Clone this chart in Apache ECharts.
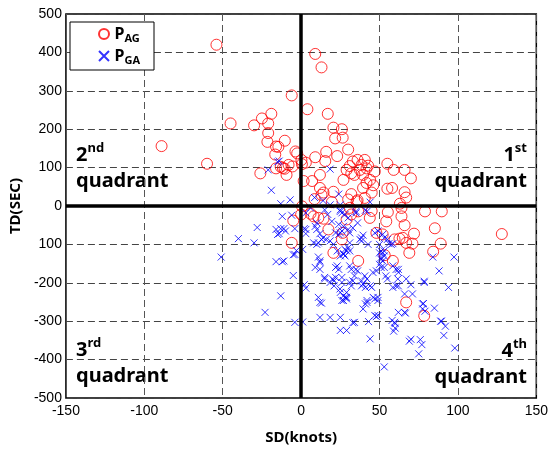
<!DOCTYPE html>
<html>
<head>
<meta charset="utf-8">
<script src="https://cdn.jsdelivr.net/npm/echarts@6/dist/echarts.min.js"></script>
<style>
  html, body { margin: 0; padding: 0; background: #fff; }
  #chart { width: 551px; height: 450px; }
</style>
</head>
<body>
<div id="chart"></div>
<script>
// SD (knots), TD (sec)
const pAG = [
  [-54,420],[-89,156],[-60,110],[-45,215],[-30,210],[-25,228],[-19,240],[-21,215],[-21,190],[-21.5,167],
  [-16,155],[-14.5,154],[-16.5,134],[-26,85],[-6,288],[-10.4,170],[-3.6,142],[-2.5,137],[-16,98],[-13,102],
  [-10.5,97],[-8,107],[-5.5,103],[-9.3,81],[-11.6,99],
  [9,396],[13,361],[4,252],[17,240],[20.6,204],[26,200],[21.7,176],[26.5,178],[30,147],[23,130],
  [16,141],[9,127],[3,113],[0.5,109],[15.4,117],[12,81],[7,65],[1.6,65],[12,47],[14.3,35],
  [20.6,37],[27,68],[31,104],[32,85],[34,81],[36,120],[38.5,107],[40.6,120],[41.7,98],[37.5,94],
  [39.5,81],[42.7,105],[47,90],[41.7,60],[46,54],[39.5,47],[45,35],[32,31],[35.4,12],[40.6,21],
  [55,110],[59,94],[66,94],[70,72],[55,45],[58,47],[66,36],[67,22],[29,94],[33,116],
  [44,68],[13,29],[30,17],[36,15],[8.6,18],[19.6,10],[63,6],[0.2,120],
  [0,-22],[0.6,-1],[-5,-38],[-6,-96],[6,-20],[8,-27],[11,-31],[14.3,-33],[17.4,-61],[20.6,-122],
  [26,-87],[26.5,-70],[29,-35],[32,-22],[31,-5],[36.4,-143],[36.4,-14],[43.8,-31],[45,-13],[48,-70],
  [52,-74],[54.3,-40],[55.3,-16],[53.3,-128],[58.5,-143],[59.6,-87],[62.7,-85],[64.8,-83],[67,-96],[69,-122],
  [66,-50],[64,-27],[79,-14],[89.7,-14],[85.3,-58],[89,-98],[84.2,-119],[128,-73],[67,-251],[78.5,-286],
  [72,-72],[71,-98],[64,-5]
];
const pGA = [
  [-21,94],[-19,41],[-15,115],[-14,117],[-7,16],[-13,6],[8.6,22],[14,14],[24,31],[18.5,96],[44,10],[18.5,3],[25,3],
  [35,-14],[41,-11],[25,-14],
  [-51,-133],[-40,-85],[-30,-96],[-28,-56],[-23,-277],[-16,-145],[-15,-74],[-13,-234],
  [-12,-27],[-6,-24],[-13,-59],[-11,-59],[-14,-72],[-4,-59],[2,-59],[3,-72],[9,-53],
  [-3,-116],[-5,-127],[-12,-145],[-5,-181],[2,-205],[3,-214],[-4,-303],[1,-302],
  [12,-72],[13,-87],[14,-83],[11,-96],[11,-133],[12,-147],[9,-160],[12,-165],[15,-186],[11,-238],[12,-251],[12,-290],
  [-16,-61],[-10,-65],[3,-61],[10,-44],[8,-96],[10,-100],[1,-113],[-4,-126],[-11,-143],[12,-143],
  [13,-253],[18.5,-290],[25,-290],[25,-324],[29,-324],[33,-304],[44,-346],[43,-301],[48,-288],[53,-419],
  [60,-306],[60,-318],[59,-326],[58,-298],[69,-352],[70,-347],[76,-348],[77,-361],[75,-385],[98,-370],
  [92,-313],[91,-337],[89,-300],[85,-266],[78,-254],[77.5,-268],[94,-212],[88,-169],[97.5,-133],[84,-133],
  [78.5,-196],[71,-229],[66,-229],[67,-190],[70,-205],[66,-277],[62,-277],[62,-208],[58.5,-212],[62,-165],
  [62,-173],[58.5,-156],[53,-160],[55,-190],[54,-182],[48,-169],[52,-143],[51,-134],[52,-122],[53,-117],
  [51,-117],[58.5,-98],[56,-98],[55,-87],[50,-100],[39.5,-76],[42.7,-100],[37.5,-87],[38.5,-91],[31,-96],
  [30,-109],[31,-117],[29,-117],[28,-130],[25,-130],[27,-124],[23,-156],[22,-160],[24,-165],[20,-190],
  [21,-195],[22,-186],[18.5,-199],[21,-208],[26,-186],[26,-199],[25,-225],[27,-234],[26,-246],[29,-238],
  [31,-199],[33,-195],[32,-208],[35,-165],[36,-169],[34,-182],[38.5,-195],[39.5,-203],[42,-190],[41,-212],
  [44,-208],[45,-212],[42,-251],[41,-255],[42,-246],[46,-238],[49,-238],[39.5,-268],[15,-190],[31,-156],
  [32,-165],[23,-117],
  [22,-70],[24,-74],[25,-70],[26,-65],[27,-53],[30,-61],[31,-70],[33,-57],[36,-44],[26,-18],
  [28,-22],[30,-31],[35,-18],[42,-14],[15,-10],[17,-22],[3,-18],[6,-5],[10,-61],
  [19.6,-40],[24,-48],[25,-10],[16,-87],[18.5,-91],[20.6,-100],[38.5,-83],[47,-70],[49,-65],[52,-74],
  [53,-83],[57.5,-100],[50,-122],[53,-130],[51,-139],[28,-113],[27,-126],[40.6,-182],[45.8,-173],[50,-152],
  [51,-160],[60.6,-165],[61.7,-190],[60.6,-208],[78.5,-199],[28,-238],[29,-225],[24.8,-216],[38.5,-208],[47,-285],
  [49,-285],[34,-303],[59.6,-303],[77.5,-255],[27,-246],[29,-242],[47,-242],[49,-246],[66.5,-279],[79,-274],
  [89.5,-300]
];
// tick labels as printed (the -100 tick has lost its minus sign)
const xTickLabels = ['-150', '-100', '-50', '0', '50', '100', '150'];
const yTickLabels = ['-500', '-400', '-300', '-200', '100', '0', '100', '200', '300', '400', '500'];

const tickFont = 'Liberation Sans, Arial, sans-serif';
const boldFont = 'Noto Sans, sans-serif';

const myChart = echarts.init(document.getElementById('chart'));

const quadrant = (n, sup, x, y, align) => ({
  type: 'text',
  x: x,
  y: y,
  silent: true,
  style: {
    text: '{n|' + n + '}{s|' + sup + '}\n{q|quadrant}',
    align: align,
    verticalAlign: 'top',
    fill: '#000',
    rich: {
      n: { fontSize: 20, fontWeight: 'bold', fontFamily: boldFont, lineHeight: 26 },
      s: { fontSize: 13, fontWeight: 'bold', fontFamily: boldFont, lineHeight: 26, verticalAlign: 'top', padding: [0, 0, 6, 0] },
      q: { fontSize: 20, fontWeight: 'bold', fontFamily: boldFont, lineHeight: 26 }
    }
  }
});

let option = {
  animation: false,
  backgroundColor: '#fff',
  grid: {
    left: 64,
    right: 13,
    top: 14,
    bottom: 49,
    show: true,
    borderColor: '#000',
    borderWidth: 1.5
  },
  legend: {
    left: 70,
    top: 22,
    orient: 'vertical',
    backgroundColor: '#fff',
    borderColor: '#000',
    borderWidth: 1,
    padding: [4, 14, 4, 28],
    itemGap: 4,
    itemWidth: 11,
    itemHeight: 10,
    formatter: (name) => '{p|P}{s|' + name.slice(1) + '}',
    textStyle: {
      rich: {
        p: { fontSize: 16, fontWeight: 'bold', fontFamily: boldFont, color: '#000', lineHeight: 20 },
        s: { fontSize: 11, fontWeight: 'bold', fontFamily: boldFont, color: '#000', lineHeight: 20, verticalAlign: 'bottom', padding: [6, 0, 0, 0] }
      }
    },
    data: ['PAG', 'PGA']
  },
  xAxis: {
    type: 'value',
    min: -150,
    max: 150,
    interval: 50,
    name: 'SD(knots)',
    nameLocation: 'middle',
    nameGap: 32,
    nameTextStyle: { fontSize: 15, fontWeight: 'bold', fontFamily: boldFont, color: '#000' },
    axisLine: { show: false },
    axisTick: { show: false },
    axisLabel: {
      color: '#000',
      fontSize: 14,
      fontFamily: tickFont,
      margin: 6,
      formatter: (v) => xTickLabels[Math.round((v + 150) / 50)]
    },
    splitLine: {
      show: true,
      lineStyle: { color: '#555', width: 1, type: [7, 4] }
    }
  },
  yAxis: {
    type: 'value',
    min: -500,
    max: 500,
    interval: 100,
    name: 'TD(SEC)',
    nameLocation: 'middle',
    nameGap: 36,
    nameTextStyle: { fontSize: 15, fontWeight: 'bold', fontFamily: boldFont, color: '#000' },
    axisLine: { show: false },
    axisTick: { show: false },
    axisLabel: {
      color: '#000',
      fontSize: 14,
      fontFamily: tickFont,
      margin: 4,
      formatter: (v) => yTickLabels[Math.round((v + 500) / 100)]
    },
    splitLine: {
      show: true,
      lineStyle: { color: '#444', width: 1, type: [7, 4] }
    }
  },
  series: [
    {
      name: 'PAG',
      type: 'scatter',
      symbol: 'circle',
      symbolSize: 11,
      itemStyle: { color: 'transparent', borderColor: '#ff0000', borderWidth: 1 },
      data: pAG,
      markLine: {
        silent: true,
        symbol: 'none',
        label: { show: false },
        lineStyle: { color: '#000', width: 3.5, type: 'solid' },
        data: [{ xAxis: 0 }, { yAxis: 0 }]
      }
    },
    {
      name: 'PGA',
      type: 'scatter',
      symbol: 'path://M0 0L10 10M10 0L0 10',
      symbolSize: 7,
      itemStyle: { color: 'transparent', borderColor: '#0000ff', borderWidth: 1 },
      data: pGA
    }
  ],
  graphic: [
    quadrant('2', 'nd', 76, 142, 'left'),
    quadrant('1', 'st', 527, 142, 'right'),
    quadrant('3', 'rd', 76, 337, 'left'),
    quadrant('4', 'th', 527, 338, 'right')
  ]
};

myChart.setOption(option);
</script>
</body>
</html>
